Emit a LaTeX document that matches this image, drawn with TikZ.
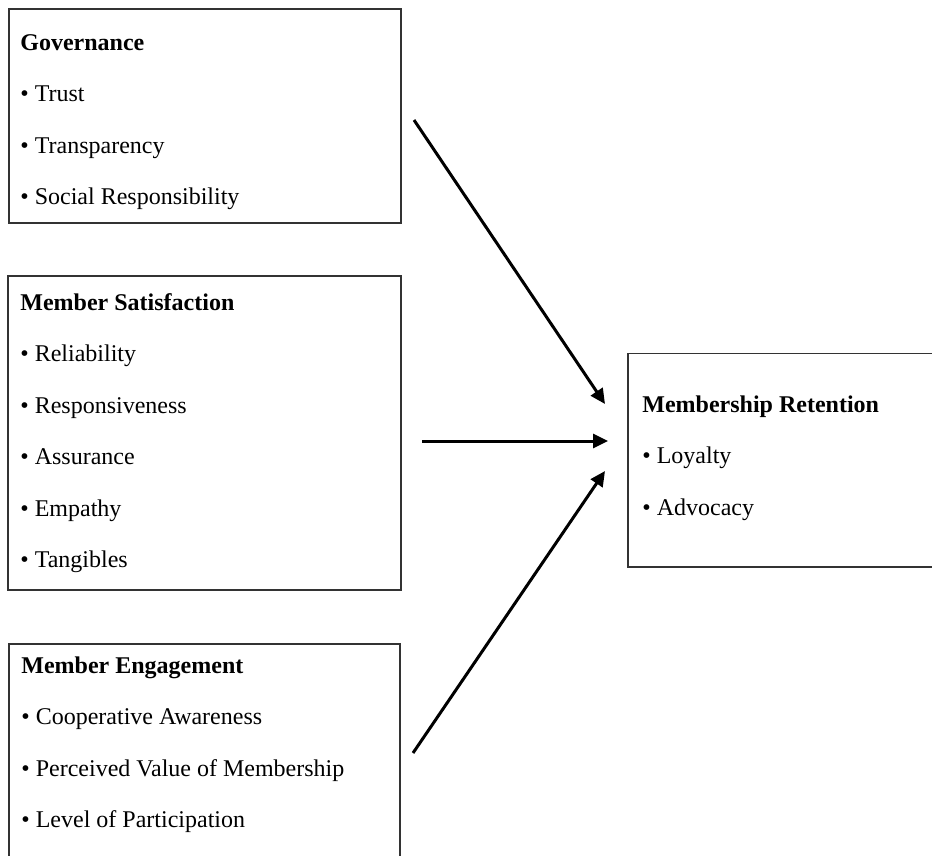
\documentclass[tikz,border=0pt]{standalone}
\usepackage{fontspec}
\setmainfont{Liberation Serif}
\usetikzlibrary{arrows.meta}
\tikzset{
  boxframe/.style={draw=black!80, line width=0.8pt, inner sep=0pt, anchor=north west},
  boxtext/.style={align=left, inner sep=0pt, anchor=north west, font=\fontsize{12}{25.75}\selectfont},
  link/.style={line width=1.5pt, -{Triangle[length=7.5pt,width=7pt]}}
}
\newcommand{\boxhead}[1]{\rule{0pt}{10pt}\textbf{#1}}
\newcommand{\itm}{\textbullet\ }
\begin{document}
\begin{tikzpicture}[x=0.5pt, y=-0.5pt]
\useasboundingbox (0,0) rectangle (932,856);
\clip (0,0) rectangle (932,856);
% boxes
\node[boxframe, minimum width=196pt, minimum height=107pt] (gov) at (8,8) {};
\node[boxframe, minimum width=196.5pt, minimum height=157pt] (sat) at (7,275) {};
\node[boxframe, minimum width=195.5pt, minimum height=120pt] (eng) at (8,643) {};
\node[boxframe, minimum width=162pt, minimum height=106.75pt] (ret) at (627,352.5) {};
% texts
\node[boxtext] (govtxt) at (20,30) {\boxhead{Governance}\\ \itm Trust\\ \itm Transparency\\ \itm Social Responsibility};
\node[boxtext] (sattxt) at (20,290) {\boxhead{Member Satisfaction}\\ \itm Reliability\\ \itm Responsiveness\\ \itm Assurance\\ \itm Empathy\\ \itm Tangibles};
\node[boxtext] (engtxt) at (21,653) {\boxhead{Member Engagement}\\ \itm Cooperative Awareness\\ \itm Perceived Value of Membership\\ \itm Level of Participation};
\node[boxtext] (rettxt) at (642,392) {\boxhead{Membership Retention}\\ \itm Loyalty\\ \itm Advocacy};
% arrow ends
\coordinate (govout) at (414,120);
\coordinate (satout) at (422,441);
\coordinate (engout) at (413,753);
\coordinate (retin1) at (605,404);
\coordinate (retin2) at (608,441);
\coordinate (retin3) at (605,471);
\draw[link] (govout) -- (retin1);
\draw[link] (satout) -- (retin2);
\draw[link] (engout) -- (retin3);
\end{tikzpicture}
\end{document}
